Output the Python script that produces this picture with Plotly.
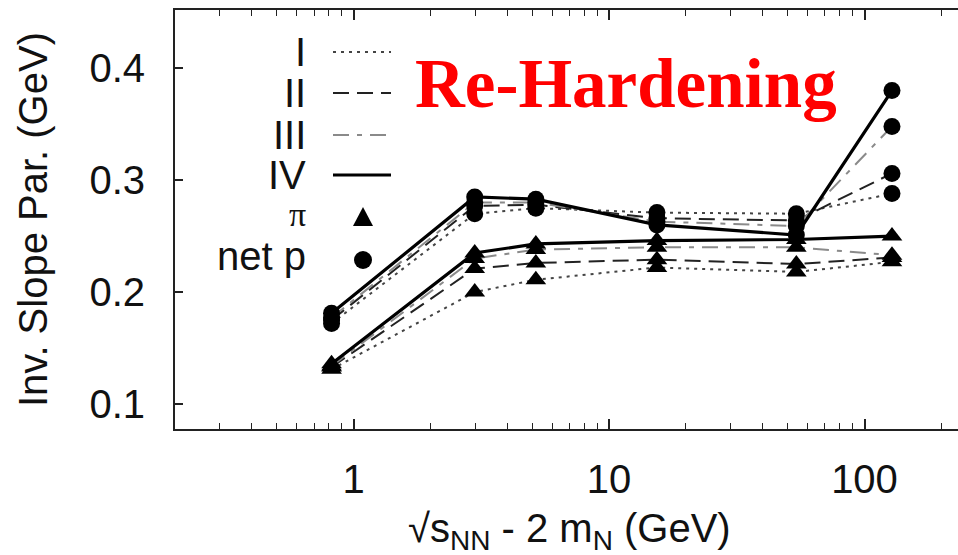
import plotly.graph_objects as go

# ---------------- data ----------------
energies = [0.82, 2.98, 5.17, 15.4, 54.1, 128.1]   # sqrt(s_NN) - 2 m_N (GeV)
model_names = ["I", "II", "III", "IV"]

netp_I   = [0.172, 0.270, 0.275, 0.271, 0.270, 0.288]
netp_II  = [0.175, 0.277, 0.278, 0.266, 0.264, 0.306]
netp_III = [0.177, 0.280, 0.280, 0.263, 0.259, 0.348]
netp_IV  = [0.181, 0.285, 0.283, 0.260, 0.251, 0.380]

pion_I   = [0.131, 0.200, 0.211, 0.222, 0.218, 0.227]
pion_II  = [0.133, 0.221, 0.226, 0.229, 0.225, 0.231]
pion_III = [0.134, 0.230, 0.238, 0.240, 0.240, 0.233]
pion_IV  = [0.136, 0.235, 0.243, 0.246, 0.247, 0.250]

x_tick_vals = [1, 10, 100]
x_tick_text = ["1", "10", "100"]
y_tick_vals = [0.1, 0.2, 0.3, 0.4]
y_tick_text = ["0.1", "0.2", "0.3", "0.4"]

netp = {"I": netp_I, "II": netp_II, "III": netp_III, "IV": netp_IV}
pion = {"I": pion_I, "II": pion_II, "III": pion_III, "IV": pion_IV}

# ---------------- styles ----------------
styles = {
    "I":   dict(color="#444444", width=2,   dash="3px,5px"),
    "II":  dict(color="#222222", width=2,   dash="16px,8px"),
    "III": dict(color="#8a8a8a", width=2,   dash="16px,8px,5px,8px"),
    "IV":  dict(color="#000000", width=3.2, dash="solid"),
}
FONT = "Liberation Sans, Arial, sans-serif"
FS = 40

W, H = 958, 555
L, R, T, B = 175, 0, 10, 126
PW, PH = W - L - R, H - T - B


def px(x):
    return (x - L) / PW


def py(y):
    return (H - B - y) / PH


fig = go.Figure()

for m in model_names:
    for series in (pion, netp):
        fig.add_trace(go.Scatter(
            x=energies, y=series[m], mode="lines",
            line=dict(color=styles[m]["color"], width=styles[m]["width"], dash=styles[m]["dash"]),
            showlegend=False, hoverinfo="skip"))

for m in model_names:
    fig.add_trace(go.Scatter(x=energies, y=pion[m], mode="markers",
                             marker=dict(symbol="triangle-up", size=18, color="black"),
                             showlegend=False, name="pi " + m))
    fig.add_trace(go.Scatter(x=energies, y=netp[m], mode="markers",
                             marker=dict(symbol="circle", size=17, color="black"),
                             showlegend=False, name="net p " + m))

axis_common = dict(showgrid=False, zeroline=False, showline=True, linewidth=2,
                   linecolor="#222222", ticks="inside", tickcolor="#222222",
                   tickfont=dict(family=FONT, size=FS, color="#111111"))

fig.update_layout(
    width=W, height=H,
    margin=dict(l=L, r=R, t=T, b=B, pad=0),
    paper_bgcolor="white", plot_bgcolor="white",
    showlegend=False,
    xaxis=dict(type="log", range=[-0.699, 2.366], tickvals=x_tick_vals, ticktext=x_tick_text,
               ticklen=10, tickwidth=1.5, mirror="ticks", ticklabelstandoff=14,
               minor=dict(ticks="inside", ticklen=6, tickwidth=1.2, tickcolor="#222222",
                          dtick="D1", showgrid=False),
               **axis_common),
    yaxis=dict(range=[0.0777, 0.452], tickvals=y_tick_vals, ticktext=y_tick_text,
               ticklen=8, tickwidth=1.5, mirror=False, ticklabelstandoff=20,
               **axis_common),
    yaxis2=dict(range=[0.0777, 0.452], overlaying="y", side="right", anchor="x",
                tickvals=y_tick_vals, showticklabels=False, ticks="inside", ticklen=8,
                tickwidth=1.5, tickcolor="#222222", showline=False, showgrid=False, zeroline=False),
)

annotations = []
shapes = []

# axis titles
annotations.append(dict(text="Inv. Slope Par. (GeV)", xref="paper", yref="paper",
                        x=px(33), y=py(220), xanchor="center", yanchor="middle",
                        textangle=-90, showarrow=False,
                        font=dict(family=FONT, size=FS, color="#111111")))
annotations.append(dict(text="\u221As<sub>NN</sub> - 2 m<sub>N</sub> (GeV)", xref="paper", yref="paper",
                        x=px(569), y=py(531), xanchor="center", yanchor="middle",
                        showarrow=False,
                        font=dict(family=FONT, size=FS, color="#111111")))

# big red label
annotations.append(dict(text="<b>Re-Hardening</b>", xref="paper", yref="paper",
                        x=px(413), y=py(84), xanchor="left", yanchor="middle",
                        showarrow=False,
                        font=dict(family="Liberation Serif, Times New Roman, serif", size=69,
                                  color="#ff0000")))

# legend
leg_rows = [("I", 52), ("II", 93), ("III", 135), ("IV", 175)]
for name, yc in leg_rows:
    annotations.append(dict(text=name, xref="paper", yref="paper", x=px(308), y=py(yc),
                            xanchor="right", yanchor="middle", showarrow=False,
                            font=dict(family=FONT, size=FS, color="#111111")))
    st = styles[name]
    shapes.append(dict(type="line", xref="paper", yref="paper",
                       x0=px(333), x1=px(391), y0=py(yc), y1=py(yc),
                       line=dict(color=st["color"], width=st["width"],
                                 dash=st["dash"])))

annotations.append(dict(text="\u03c0", xref="paper", yref="paper", x=px(308), y=py(214),
                        xanchor="right", yanchor="middle", showarrow=False,
                        font=dict(family="Liberation Serif, serif", size=34, color="#111111")))
annotations.append(dict(text="net p", xref="paper", yref="paper", x=px(308), y=py(256),
                        xanchor="right", yanchor="middle", showarrow=False,
                        font=dict(family=FONT, size=FS, color="#111111")))

# legend symbols
tx, ty = 363, 217
shapes.append(dict(type="path", xref="paper", yref="paper",
                   path="M {} {} L {} {} L {} {} Z".format(px(tx - 10), py(ty + 9), px(tx + 10), py(ty + 9),
                                                           px(tx), py(ty - 10)),
                   fillcolor="black", line=dict(width=0)))
cx, cy = 363, 260
shapes.append(dict(type="circle", xref="paper", yref="paper",
                   x0=px(cx - 9), x1=px(cx + 9), y0=py(cy - 9), y1=py(cy + 9),
                   fillcolor="black", line=dict(width=0)))

fig.update_layout(annotations=annotations, shapes=shapes)

fig.write_html("out.html")
